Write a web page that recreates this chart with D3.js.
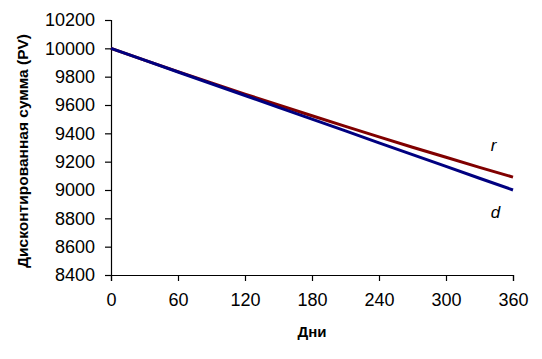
<!DOCTYPE html>
<html>
<head>
<meta charset="utf-8">
<script src="https://cdn.jsdelivr.net/npm/d3@7"></script>
<style>
  html, body { margin: 0; padding: 0; background: #fff; }
  svg { display: block; }
  text { font-family: "Liberation Sans", Arial, sans-serif; fill: #000; }
</style>
</head>
<body>
<svg id="chart" width="542" height="359"></svg>
<script>
const days = [0, 30, 60, 90, 120, 150, 180, 210, 240, 270, 300, 330, 360];
const seriesR = [10000, 9917, 9836, 9756, 9677, 9600, 9524, 9449, 9375, 9302, 9231, 9160, 9091];
const seriesD = [10000, 9917, 9833, 9750, 9667, 9583, 9500, 9417, 9333, 9250, 9167, 9083, 9000];
const xTicks = [0, 60, 120, 180, 240, 300, 360];
const yTicks = [8400, 8600, 8800, 9000, 9200, 9400, 9600, 9800, 10000, 10200];
const seriesNames = ["r", "d"];
const xTitle = "Дни";
const yTitle = "Дисконтированная сумма (PV)";

const svg = d3.select("#chart");
const x = d3.scaleLinear().domain([0, 360]).range([111, 513]);
const y = d3.scaleLinear().domain([8400, 10200]).range([275, 20]);

// Y axis
const yAxis = svg.append("g").attr("transform", "translate(111,0)")
  .call(d3.axisLeft(y).tickValues(yTicks).tickSize(6).tickPadding(10).tickFormat(d3.format("d")));
yAxis.select(".domain").attr("stroke", "#000").attr("stroke-width", 1.2);
yAxis.selectAll(".tick line").attr("stroke", "#000").attr("stroke-width", 1.2);
yAxis.selectAll("text").style("font-size", "18px").style("font-family", "'Liberation Sans', Arial, sans-serif").attr("fill", "#000");

// X axis
const xAxis = svg.append("g").attr("transform", "translate(0,275)")
  .call(d3.axisBottom(x).tickValues(xTicks).tickSize(6).tickPadding(12).tickFormat(d3.format("d")));
xAxis.select(".domain").attr("stroke", "#000").attr("stroke-width", 1.2);
xAxis.selectAll(".tick line").attr("stroke", "#000").attr("stroke-width", 1.2);
xAxis.selectAll("text").style("font-size", "18px").style("font-family", "'Liberation Sans', Arial, sans-serif").attr("fill", "#000");

// Lines
const line = d3.line().x((d, i) => x(days[i])).y(d => y(d));
svg.append("path").datum(seriesR).attr("d", line)
  .attr("fill", "none").attr("stroke", "#800000").attr("stroke-width", 3);
svg.append("path").datum(seriesD).attr("d", line)
  .attr("fill", "none").attr("stroke", "#000080").attr("stroke-width", 3);

// Series labels
svg.append("text").attr("x", x(340)).attr("y", y(9320)).attr("dy", "0.35em")
  .style("font-size", "17px").style("font-style", "italic").text(seriesNames[0]);
svg.append("text").attr("x", x(340)).attr("y", y(8845)).attr("dy", "0.35em")
  .style("font-size", "17px").style("font-style", "italic").text(seriesNames[1]);

// Axis titles
svg.append("text").attr("x", x(180)).attr("y", 332).attr("dy", "0.35em")
  .attr("text-anchor", "middle").style("font-size", "15px").style("font-weight", "bold").text(xTitle);
svg.append("text").attr("transform", "translate(23,151) rotate(-90)").attr("dy", "0.35em")
  .attr("text-anchor", "middle").style("font-size", "15.5px").style("font-weight", "bold").text(yTitle);
</script>
</body>
</html>
